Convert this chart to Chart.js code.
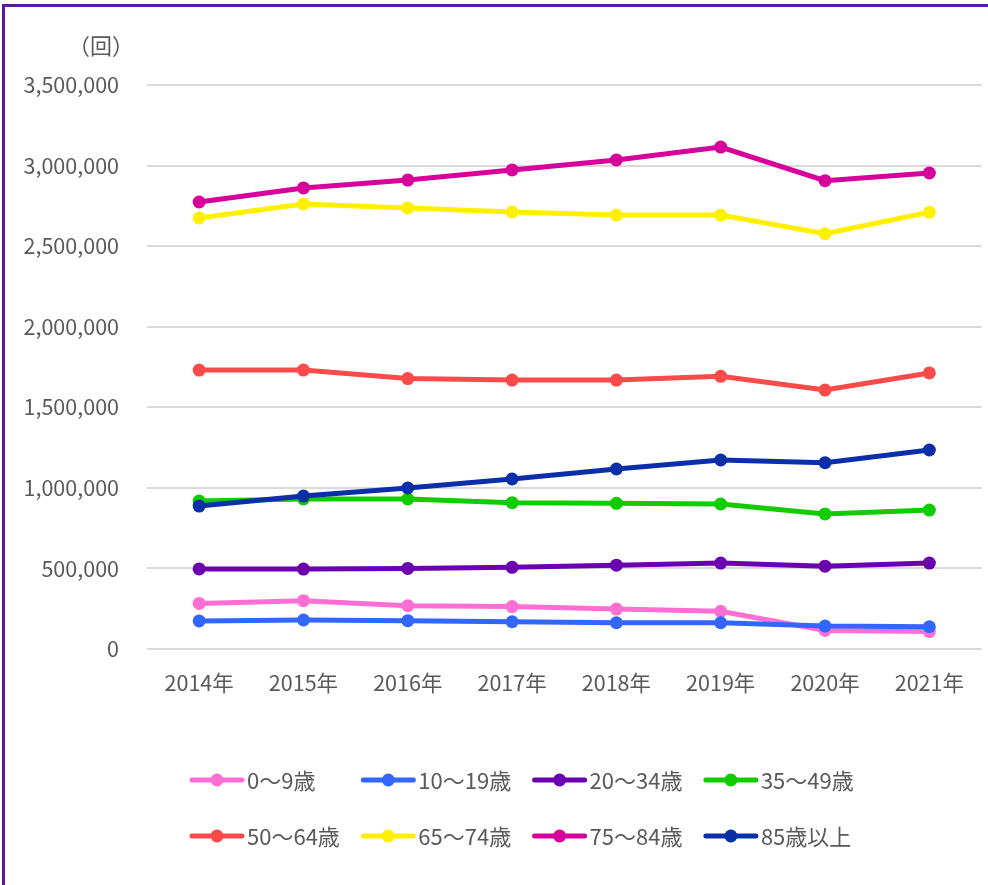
<!DOCTYPE html>
<html>
<head>
<meta charset="utf-8">
<script src="https://cdn.jsdelivr.net/npm/chart.js@4/dist/chart.umd.min.js"></script>
<style>
  html, body { margin: 0; padding: 0; background: #fff; }
  #wrap { position: relative; width: 988px; height: 885px; overflow: hidden; background: #fff; }
  #frame { position: absolute; left: 2px; top: 4px; width: 1100px; height: 1000px; border: 3px solid #5b17a0; box-sizing: border-box; }
  #c { position: absolute; left: 0; top: 0; }
</style>
</head>
<body>
<div id="wrap">
  <div id="frame"></div>
  <canvas id="c" width="988" height="885"></canvas>
</div>
<script>
// data
const years = ["2014年", "2015年", "2016年", "2017年", "2018年", "2019年", "2020年", "2021年"];
const seriesNames = ["0〜9歳", "10〜19歳", "20〜34歳", "35〜49歳", "50〜64歳", "65〜74歳", "75〜84歳", "85歳以上"];
const age0to9 = [283000, 300000, 269000, 263000, 248000, 234000, 115000, 108000];
const age10to19 = [174000, 180000, 176000, 169000, 163000, 163000, 142000, 138000];
const age20to34 = [497000, 496000, 500000, 507000, 520000, 533000, 514000, 533000];
const age35to49 = [918000, 931000, 931000, 908000, 904000, 900000, 838000, 862000];
const age50to64 = [1731000, 1731000, 1678000, 1669000, 1669000, 1692000, 1607000, 1713000];
const age65to74 = [2675000, 2762000, 2737000, 2712000, 2693000, 2693000, 2577000, 2710000];
const age75to84 = [2774000, 2861000, 2910000, 2973000, 3035000, 3115000, 2906000, 2954000];
const age85up = [887000, 949000, 999000, 1055000, 1117000, 1173000, 1156000, 1235000];
const yTicks = [0, 500000, 1000000, 1500000, 2000000, 2500000, 3000000, 3500000];

const allSeries = [age0to9, age10to19, age20to34, age35to49, age50to64, age65to74, age75to84, age85up];
const colors = ["#ff6fd3", "#3366ff", "#6a00b0", "#11cc00", "#fb4a4a", "#fff000", "#d8009a", "#0a2fa8"];

const textColor = "#595959";
const fontFamily = '"Noto Sans CJK JP", "Noto Sans", sans-serif';

// unit label + Excel-style grid legend
const extras = {
  id: "extras",
  afterDraw(chart) {
    const ctx = chart.ctx;
    ctx.save();
    ctx.fillStyle = textColor;
    ctx.font = "22px " + fontFamily;
    ctx.textAlign = "center";
    ctx.textBaseline = "middle";
    ctx.fillText("（回）", 101, 46);

    ctx.font = "22px " + fontFamily;
    ctx.textAlign = "left";
    chart.data.datasets.forEach((ds, i) => {
      const x = 190 + (i % 4) * 171.3;
      const y = 780 + Math.floor(i / 4) * 56;
      ctx.strokeStyle = ds.borderColor;
      ctx.lineWidth = 5;
      ctx.lineCap = "round";
      ctx.beginPath();
      ctx.moveTo(x + 2, y);
      ctx.lineTo(x + 52, y);
      ctx.stroke();
      ctx.fillStyle = ds.borderColor;
      ctx.beginPath();
      ctx.arc(x + 27, y, 6.5, 0, Math.PI * 2);
      ctx.fill();
      ctx.fillStyle = textColor;
      ctx.fillText(ds.label, x + 57, y + 1);
    });
    ctx.restore();
  }
};

new Chart(document.getElementById("c"), {
  type: "line",
  data: {
    labels: years,
    datasets: allSeries.map((vals, i) => ({
      label: seriesNames[i],
      data: vals,
      borderColor: colors[i],
      backgroundColor: colors[i],
      borderWidth: 5,
      pointRadius: 6.5,
      pointHoverRadius: 6.5,
      pointBorderWidth: 0,
      tension: 0,
      order: -i
    }))
  },
  options: {
    responsive: false,
    animation: false,
    layout: { padding: { top: 85, right: 0, bottom: 0, left: 0 } },
    plugins: {
      legend: { display: false },
      tooltip: { enabled: false }
    },
    scales: {
      x: {
        offset: true,
        grid: { display: false, drawTicks: false },
        border: { display: false },
        ticks: { color: textColor, font: { family: fontFamily, size: 21.5 }, padding: 21, maxRotation: 0 },
        afterFit(scale) { scale.height = 236; }
      },
      y: {
        min: 0,
        max: 3500000,
        afterBuildTicks(scale) { scale.ticks = yTicks.map(v => ({ value: v })); },
        grid: { color: "#d9d9d9", lineWidth: 2, drawTicks: false },
        border: { display: false },
        ticks: {
          color: textColor,
          font: { family: fontFamily, size: 21.5 },
          padding: 28,
          callback: v => v.toLocaleString("en-US")
        },
        afterFit(scale) { scale.width = 147; }
      }
    }
  },
  plugins: [extras]
});
</script>
</body>
</html>
